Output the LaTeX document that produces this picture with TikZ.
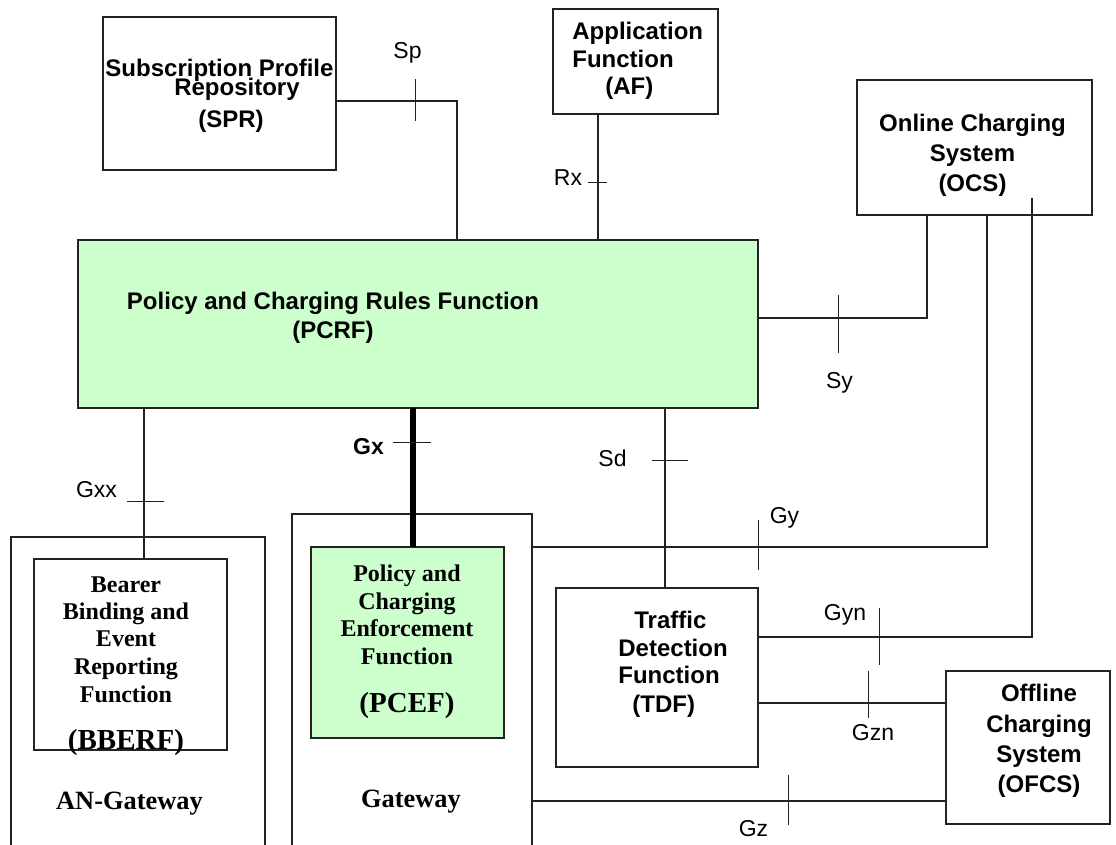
\documentclass[tikz,border=0pt]{standalone}
\usepackage{fontspec}
\setmainfont{Liberation Serif}
\setsansfont{Liberation Sans}
\definecolor{pcgreen}{HTML}{CCFFCC}
\definecolor{edge}{HTML}{222222}
\protected\def\tightlines{\lineskiplimit=-1000pt\relax}
\begin{document}
\begin{tikzpicture}[x=0.5pt,y=-0.5pt,
  box/.style={draw=edge, line width=0.85pt, inner sep=0pt, outer sep=0pt},
  frame/.style={draw=edge, line width=0.85pt},
  ifline/.style={draw=edge, line width=0.65pt},
  thickif/.style={draw=black, line width=2.7pt},
  tickmark/.style={draw=edge, line width=0.5pt},
  lbl/.style={font=\sffamily\fontsize{11.5}{13}\selectfont, inner sep=0pt},
  sanstxt/.style={font=\sffamily\bfseries\fontsize{12}{#1}\selectfont\tightlines, inner sep=0pt, anchor=base},
  seriftxt/.style={font=\rmfamily\bfseries\fontsize{12}{#1}\selectfont\tightlines, inner sep=0pt, anchor=base},
  gwtxt/.style={font=\rmfamily\bfseries\fontsize{13.2}{15}\selectfont, inner sep=0pt, anchor=base}
]
\useasboundingbox (0,0) rectangle (1116,845);
\fill[white] (0,0) rectangle (1116,845);

% boxes
\node[box, minimum width=116.5pt, minimum height=76.5pt] (spr) at (219.5,93.5) {};
\node[box, minimum width=82.5pt, minimum height=52.5pt] (af) at (635.5,61.5) {};
\node[box, minimum width=117.5pt, minimum height=67.5pt] (ocs) at (974.5,147.5) {};
\node[box, fill=pcgreen, minimum width=340pt, minimum height=84pt] (pcrf) at (418,324) {};
\draw[frame] (11,845) -- (11,537) -- (265,537) -- (265,845);
\draw[frame] (292,845) -- (292,514) -- (532,514) -- (532,845);
\coordinate (gwR) at (532,514);
\node[box, minimum width=96.5pt, minimum height=95.5pt] (bberf) at (130.5,654.5) {};
\node[box, fill=pcgreen, minimum width=96.5pt, minimum height=95.5pt] (pcef) at (407.5,642.5) {};
\node[box, minimum width=101pt, minimum height=89.5pt] (tdf) at (657,677.5) {};
\node[box, minimum width=82pt, minimum height=76.5pt] (ofcs) at (1028,747.5) {};
\coordinate (gynend) at (1032,198);

% box texts (anchored at the baseline of their last line)
\node[sanstxt=9.75pt, align=center] (sprtext) at (219.5,128) {Subscription Profile\\\hspace*{17.5pt}Repository\\[6.25pt]\hspace*{11.5pt}(SPR)};
\node[sanstxt=13.75pt, align=left, anchor=base west] (aftext) at (572,95) {Application\\Function\\\hspace*{16.5pt}(AF)};
\node[sanstxt=15pt, align=center] (ocstext) at (972.5,192) {Online Charging\\System\\(OCS)};
\node[sanstxt=14.5pt, align=center] (pcrftext) at (333,339) {Policy and Charging Rules Function\\(PCRF)};
\node[sanstxt=14pt, align=left, anchor=base west] (tdftext) at (618,712) {\hspace*{8pt}Traffic\\Detection\\Function\\\hspace*{7pt}(TDF)};
\node[sanstxt=15.25pt, align=center] (ofcstext) at (1039,793) {Offline\\Charging\\System\\(OFCS)};
\node[seriftxt=13.75pt, align=center] (bbereftext) at (126,750) {Bearer\\Binding and\\Event\\Reporting\\Function\\[10.25pt]{\fontsize{14.5}{14.5}\selectfont(BBERF)}};
\node[seriftxt=13.7pt, align=center] (pceftext) at (407,712) {Policy and\\Charging\\Enforcement\\Function\\[10.3pt]{\fontsize{14.5}{14.5}\selectfont(PCEF)}};
\node[gwtxt] (angw) at (129.5,810) {AN-Gateway};
\node[gwtxt] (gw) at (411,808) {Gateway};

% connectors
\draw[ifline] (spr.east |- 0,101) -| (pcrf.north -| 457,0);
\draw[ifline] (af.south -| 598,0) -- (pcrf.north -| 598,0);
\draw[ifline] (pcrf.east |- 0,318) -| (ocs.south -| 927,0);
\draw[ifline] (gwR |- 0,547) -| (ocs.south -| 987,0);
\draw[ifline] (tdf.east |- 0,637) -| (gynend);
\draw[ifline] (tdf.east |- 0,703) -- (ofcs.west |- 0,703);
\draw[ifline] (gwR |- 0,801) -- (ofcs.west |- 0,801);
\draw[ifline] (pcrf.south -| 144,0) -- (bberf.north -| 144,0);
\draw[thickif] (pcrf.south -| 413,0) -- (pcef.north -| 413,0);
\draw[ifline] (pcrf.south -| 665,0) -- (tdf.north -| 665,0);

% ticks
\draw[tickmark] (415,79) -- (415,121);
\draw[tickmark] (588,183) -- (607,183);
\draw[tickmark] (838,295) -- (838,353);
\draw[tickmark] (127,502) -- (164,502);
\draw[tickmark] (393,443) -- (431,443);
\draw[tickmark] (652,461) -- (688,461);
\draw[tickmark] (758,520) -- (758,570);
\draw[tickmark] (879,608) -- (879,665);
\draw[tickmark] (868,671) -- (868,718);
\draw[tickmark] (788,775) -- (788,825);

% interface labels
\node[lbl] (lsp) at (407.5,52.5) {Sp};
\node[lbl] (lrx) at (568,178) {Rx};
\node[lbl] (lsy) at (839.5,382.5) {Sy};
\node[lbl] (lgxx) at (96.5,490) {Gxx};
\node[lbl, font=\sffamily\bfseries\fontsize{11.5}{13}\selectfont] (lgx) at (368.5,447) {Gx};
\node[lbl] (lsd) at (612.5,458) {Sd};
\node[lbl] (lgy) at (784.5,517.5) {Gy};
\node[lbl] (lgyn) at (845,614.5) {Gyn};
\node[lbl] (lgzn) at (873,732.5) {Gzn};
\node[lbl] (lgz) at (753.5,828.5) {Gz};
\end{tikzpicture}
\end{document}
